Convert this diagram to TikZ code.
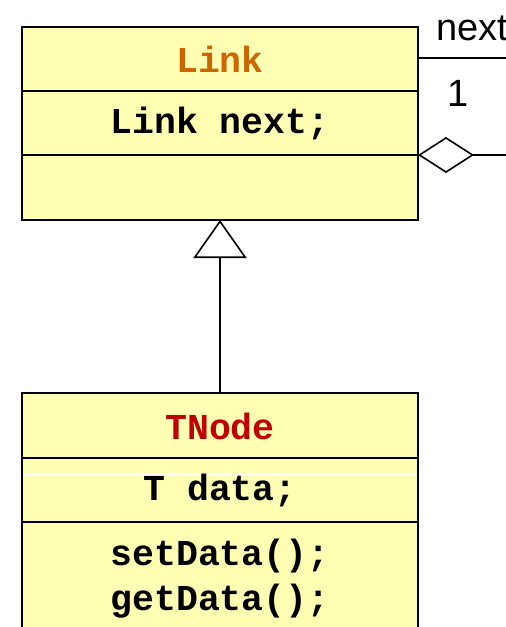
\documentclass[tikz,border=0pt]{standalone}
\usepackage{fontspec}
\setmainfont{Liberation Sans}
\setmonofont{Liberation Mono}
\usetikzlibrary{arrows.meta}
\definecolor{classfill}{HTML}{FFFFB4}
\definecolor{linkname}{HTML}{CC6600}
\definecolor{tnodename}{HTML}{C00000}
\tikzset{
  classbox/.style={draw, fill=classfill, line width=1.6pt},
  member/.style={font=\ttfamily\bfseries\fontsize{36.5}{40}\selectfont, inner sep=0pt},
  role/.style={font=\fontsize{38}{42}\selectfont, inner sep=0pt},
  link line/.style={line width=1.6pt}
}
\begin{document}
\begin{tikzpicture}[x=1pt, y=-1pt]
\useasboundingbox (0,0) rectangle (506,627);
\clip (0,0) rectangle (506,627);
% class Link
\draw[classbox] (22,27) rectangle (418,220);
\draw[link line] (22,91) -- (418,91);
\draw[link line] (22,155) -- (418,155);
\node[member, text=linkname] (linktitle) at (220,59) {Link};
\node[member] (linkattr) at (220,124) {Link next;};
\coordinate (link) at (220,220);
% class TNode
\draw[classbox] (22,393) rectangle (418,650);
\draw[link line] (22,458) -- (418,458);
\draw[white, line width=1pt] (23,474) -- (417,474);
\draw[link line] (22,522) -- (418,522);
\node[member, text=tnodename] (tnodetitle) at (220,426) {TNode};
\node[member] (tnodeattr) at (220,491) {T data;};
\node[member] (setdata) at (220,556) {setData();};
\node[member] (getdata) at (220,601) {getData();};
\coordinate (tnode) at (220,393);
% inheritance
\draw[link line, -{Triangle[open, length=38pt, width=53pt, line width=1.6pt]}] (tnode) -- (link);
% self association next
\coordinate (nextstart) at (418,58);
\coordinate (nextend) at (506,58);
\coordinate (aggstart) at (418,155);
\coordinate (aggend) at (506,155);
\draw[link line] (nextstart) -- (nextend);
\draw[link line, {Diamond[open, length=56pt, width=36pt, line width=1.6pt]}-] (aggstart) -- (aggend);
\node[role, anchor=base west] (nextlabel) at (436,40) {next};
\node[role, anchor=base] (mult) at (458,106) {1};
\end{tikzpicture}
\end{document}
